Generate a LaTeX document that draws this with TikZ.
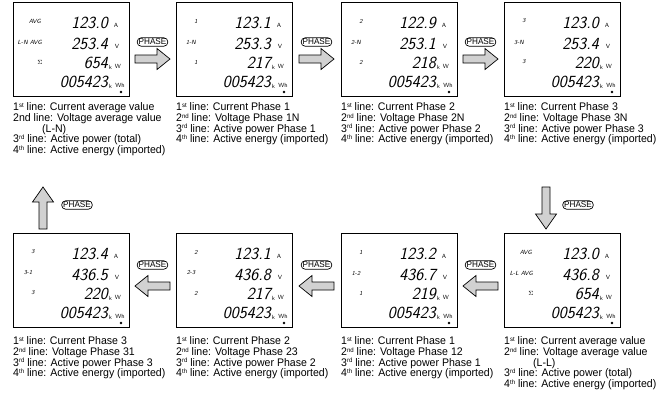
\documentclass[tikz,border=0pt]{standalone}
\usepackage{fontspec}
\setmainfont{Liberation Sans}[FakeStretch=0.96]
\newcommand\sups[1]{\raisebox{3.2pt}{\fontsize{6.3}{6.3}\selectfont #1}}
\tikzset{
  lcdframe/.style={draw, line width=0.9pt, minimum width=116pt, minimum height=94pt, inner sep=0pt, fill=white},
  dig/.style={anchor=east, inner sep=0pt, font=\fontsize{17}{17}\sffamily\itshape},
  unit/.style={inner sep=0pt, font=\fontsize{6}{6}\sffamily},
  lab/.style={inner sep=0pt, font=\fontsize{6}{6}\sffamily\itshape},
  desc/.style={anchor=north west, inner sep=0pt, align=left, font=\fontsize{11}{10.7}\selectfont},
  phasebtn/.style={draw, rounded corners=4pt, line width=0.7pt, inner xsep=1.5pt, inner ysep=1.2pt, font=\fontsize{8.5}{8.5}\selectfont},
  blockarrow/.style={draw, line width=0.7pt, fill=black!18, line join=miter},
  rarr/.pic={\draw[blockarrow] (-17.5,-4) -- (4.5,-4) -- (4.5,-10.5) -- (17.5,0) -- (4.5,10.5) -- (4.5,4) -- (-17.5,4) -- cycle;}
}
\newcommand\lcdcommon[6]{%
  \node[lcdframe] (#1) at (#2+58,#3+47) {};
  \node[dig] (#1-r1) at (#2+95,#3+21) {#4};
  \node[dig] (#1-r2) at (#2+95,#3+42) {#5};
  \node[dig] (#1-r3) at (#2+95,#3+61) {#6};
  \node[dig] (#1-r4) at (#2+95,#3+80) {005423};
  \node[unit] (#1-ua) at (#2+103,#3+23) {A};
  \node[unit] (#1-uv) at (#2+104,#3+44) {V};
  \node[unit] (#1-k3) at (#2+97.5,#3+65) {k};
  \node[unit] (#1-uw) at (#2+105,#3+64) {W};
  \node[unit] (#1-k4) at (#2+97.5,#3+84) {k};
  \node[unit] (#1-uwh) at (#2+107,#3+83) {Wh};
  \fill (#2+108,#3+90) circle (1.3pt);
}
\newcommand\avgpanel[7]{%
  \lcdcommon{#1}{#2}{#3}{#4}{#5}{#6}%
  \node[lab, anchor=east] (#1-l1) at (#2+28,#3+19) {AVG};
  \node[lab, anchor=east] (#1-l2) at (#2+29,#3+40) {#7};
  \node[lab] (#1-l3) at (#2+27,#3+60) {$\Sigma$};
}
\newcommand\phpanel[8]{%
  \lcdcommon{#1}{#2}{#3}{#4}{#5}{#6}%
  \node[lab] (#1-l1) at (#2+20,#3+19) {#7};
  \node[lab] (#1-l2) at (#2+15,#3+40) {#8};
  \node[lab] (#1-l3) at (#2+20,#3+60) {#7};
}
\begin{document}
\begin{tikzpicture}[x=1pt,y=-1pt]
\useasboundingbox (0,0) rectangle (662,399);
% top row
\avgpanel{p1}{13}{2}{123.0}{253.4}{654}{L-N AVG}
\phpanel{p2}{176}{2}{123.1}{253.3}{217}{1}{1-N}
\phpanel{p3}{341}{2}{122.9}{253.1}{218}{2}{2-N}
\phpanel{p4}{504}{2}{123.0}{253.4}{220}{3}{3-N}
% bottom row
\phpanel{p5}{13}{233}{123.4}{436.5}{220}{3}{3-1}
\phpanel{p6}{176}{233}{123.1}{436.8}{217}{2}{2-3}
\phpanel{p7}{341}{233}{123.2}{436.7}{219}{1}{1-2}
\avgpanel{p8}{504}{233}{123.0}{436.8}{654}{L-L AVG}
% descriptions
\node[desc] (t1) at (13,102.5) {1\sups{st} line: Current average value\\2nd line: Voltage average value\\\hspace*{29pt}(L-N)\\3\sups{rd} line: Active power (total)\\4\sups{th} line: Active energy (imported)};
\node[desc] (t2) at (176,102.5) {1\sups{st} line: Current Phase 1\\2\sups{nd} line: Voltage Phase 1N\\3\sups{rd} line: Active power Phase 1\\4\sups{th} line: Active energy (imported)};
\node[desc] (t3) at (341,102.5) {1\sups{st} line: Current Phase 2\\2\sups{nd} line: Voltage Phase 2N\\3\sups{rd} line: Active power Phase 2\\4\sups{th} line: Active energy (imported)};
\node[desc] (t4) at (504,102.5) {1\sups{st} line: Current Phase 3\\2\sups{nd} line: Voltage Phase 3N\\3\sups{rd} line: Active power Phase 3\\4\sups{th} line: Active energy (imported)};
\node[desc] (t5) at (13,336.5) {1\sups{st} line: Current Phase 3\\2\sups{nd} line: Voltage Phase 31\\3\sups{rd} line: Active power Phase 3\\4\sups{th} line: Active energy (imported)};
\node[desc] (t6) at (176,336.5) {1\sups{st} line: Current Phase 2\\2\sups{nd} line: Voltage Phase 23\\3\sups{rd} line: Active power Phase 2\\4\sups{th} line: Active energy (imported)};
\node[desc] (t7) at (341,336.5) {1\sups{st} line: Current Phase 1\\2\sups{nd} line: Voltage Phase 12\\3\sups{rd} line: Active power Phase 1\\4\sups{th} line: Active energy (imported)};
\node[desc] (t8) at (504,336.5) {1\sups{st} line: Current average value\\2\sups{nd} line: Voltage average value\\\hspace*{29pt}(L-L)\\3\sups{rd} line: Active power (total)\\4\sups{th} line: Active energy (imported)};
% PHASE buttons and arrows, top row (left to right)
\node[phasebtn] (b1) at (152.5,42) {PHASE};
\node[phasebtn] (b2) at (316.5,42) {PHASE};
\node[phasebtn] (b3) at (480.5,42) {PHASE};
\pic at (152.5,59) {rarr};
\pic at (316.5,59) {rarr};
\pic at (480.5,59) {rarr};
% right column down
\node[phasebtn] (b4) at (578,205) {PHASE};
\draw[blockarrow] (542,187) -- (542,214) -- (535.5,214) -- (546,229) -- (556.5,214) -- (550,214) -- (550,187) -- cycle;
% bottom row (right to left)
\node[phasebtn] (b5) at (480.5,265) {PHASE};
\node[phasebtn] (b6) at (316.5,265) {PHASE};
\node[phasebtn] (b7) at (152.5,265) {PHASE};
\pic[rotate=180] at (480.5,286) {rarr};
\pic[rotate=180] at (316.5,286) {rarr};
\pic[rotate=180] at (152.5,286) {rarr};
% left column up
\node[phasebtn] (b8) at (77,205) {PHASE};
\draw[blockarrow] (39,229) -- (39,202) -- (32.5,202) -- (43,187) -- (53.5,202) -- (47,202) -- (47,229) -- cycle;
\end{tikzpicture}
\end{document}
